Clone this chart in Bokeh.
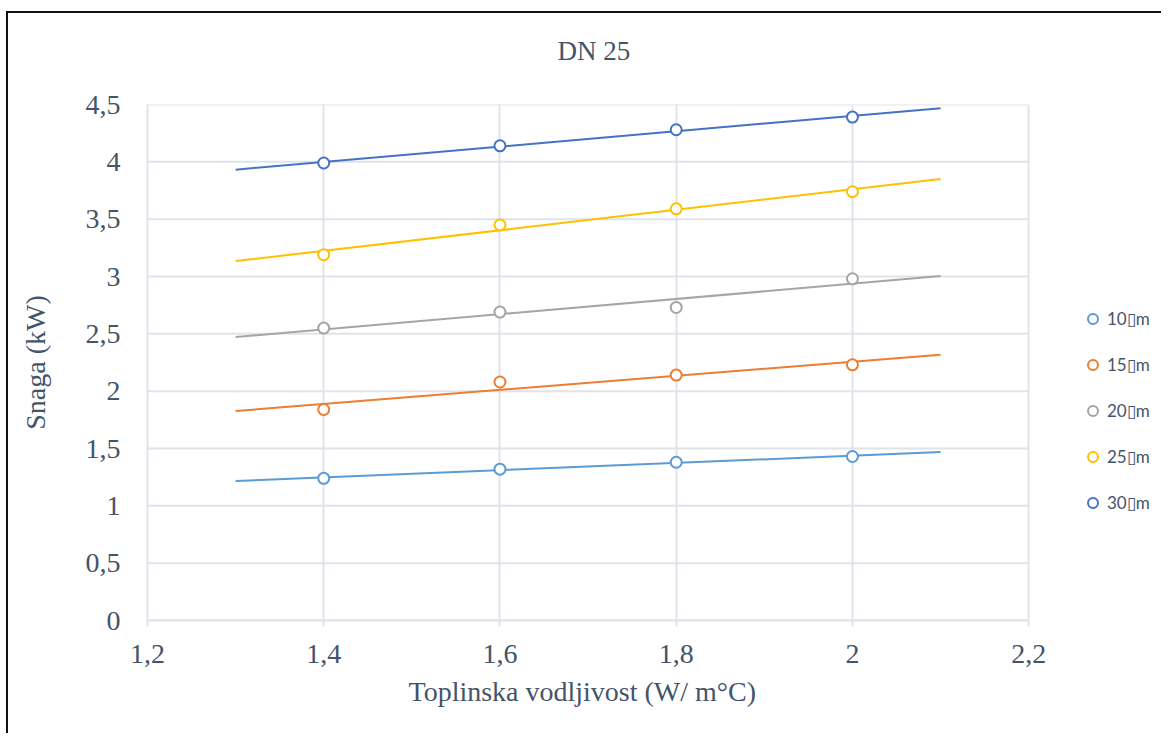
import numpy as np
from bokeh.plotting import figure
from bokeh.models import Legend, LegendItem, Range1d, FixedTicker, CustomJSTickFormatter, Title
from bokeh.embed import file_html
from bokeh.resources import INLINE

# data
conductivity = [1.4, 1.6, 1.8, 2.0]
series_names = ["10\u25afm", "15\u25afm", "20\u25afm", "25\u25afm", "30\u25afm"]
p10 = [1.24, 1.32, 1.38, 1.43]
p15 = [1.84, 2.08, 2.14, 2.23]
p20 = [2.55, 2.69, 2.73, 2.98]
p25 = [3.19, 3.45, 3.59, 3.74]
p30 = [3.99, 4.14, 4.28, 4.39]
trend_x = [1.3, 2.1]
x_ticks = [1.2, 1.4, 1.6, 1.8, 2.0, 2.2]
y_ticks = [0, 0.5, 1, 1.5, 2, 2.5, 3, 3.5, 4, 4.5]
colors = ["#5B9BD5", "#ED7D31", "#A5A5A5", "#FFC000", "#4472C4"]
chart_title = "DN 25"
x_title = "Toplinska vodljivost (W/ m°C)"
y_title = "Snaga (kW)"

TXT = "#44546A"
GRID = "#DFE3EA"
SERIF = "Liberation Serif"
X_VIEW_END = 2.353  # frame extends right to hold the legend

p = figure(width=1155, height=722, output_backend="svg", toolbar_location=None,
           x_range=Range1d(x_ticks[0], X_VIEW_END), y_range=Range1d(y_ticks[0], y_ticks[-1]),
           min_border_left=139, min_border_right=0, min_border_top=91, min_border_bottom=115,
           title=chart_title + "\n",
           styles={"margin-left": "6px", "margin-top": "11px",
                   "border-left": "2px solid #111111", "border-top": "2px solid #111111"})
p.outline_line_color = None
p.background_fill_color = "white"
p.border_fill_color = "white"

# title with a blank second line to lift it away from the frame
p.title.align = "left"
p.title.offset = 410
p.title.standoff = 0
p.title.text_line_height = 1.3
p.title.text_font = SERIF
p.title.text_font_style = "normal"
p.title.text_font_size = "27px"
p.title.text_color = TXT

fmt = CustomJSTickFormatter(code="return String(Math.round(tick*10)/10).replace('.', ',');")
p.xaxis.ticker = FixedTicker(ticks=x_ticks)
p.yaxis.ticker = FixedTicker(ticks=y_ticks)
p.xaxis.formatter = fmt
p.yaxis.formatter = fmt
p.xaxis.bounds = (x_ticks[0], x_ticks[-1])
for ax in (p.xaxis[0], p.yaxis[0]):
    ax.major_label_text_font = SERIF
    ax.major_label_text_font_size = "28px"
    ax.major_label_text_color = TXT
    ax.axis_label_text_font = SERIF
    ax.axis_label_text_font_size = "28px"
    ax.axis_label_text_font_style = "normal"
    ax.axis_label_text_color = TXT
    ax.minor_tick_line_color = None
    ax.axis_line_color = GRID
    ax.axis_line_width = 2
p.yaxis.axis_label = y_title
p.xaxis.major_tick_line_color = GRID
p.xaxis.major_tick_line_width = 2
p.xaxis.major_tick_in = 0
p.xaxis.major_tick_out = 6
p.yaxis.major_tick_line_color = None
p.xaxis.major_label_standoff = 18
p.yaxis.major_label_standoff = 21
p.yaxis.axis_label_standoff = 32

x_label = Title(text=x_title, align="left", offset=261, standoff=20, vertical_align="top",
                text_font=SERIF, text_font_style="normal", text_font_size="28px",
                text_color=TXT)
p.add_layout(x_label, "below")

p.xgrid.grid_line_color = GRID
p.xgrid.grid_line_width = 2
p.ygrid.grid_line_color = None
# horizontal gridlines limited to the x tick span
p.segment(x0=[x_ticks[0]] * len(y_ticks), x1=[x_ticks[-1]] * len(y_ticks),
          y0=y_ticks, y1=y_ticks, line_color=GRID, line_width=2, level="underlay")

items = []
for name, vals, c in zip(series_names, [p10, p15, p20, p25, p30], colors):
    k, b = np.polyfit(conductivity, vals, 1)
    tx = np.array(trend_x)
    p.line(tx, k * tx + b, line_color=c, line_width=2)
    r = p.scatter(conductivity, vals, marker="circle", size=11, line_color=c,
                  line_width=2, fill_color="white")
    items.append(LegendItem(label=name, renderers=[r]))

legend = Legend(items=items, location=(933, 105), orientation="vertical",
                label_text_font="Lato", label_text_font_size="17px", label_text_color=TXT,
                glyph_width=25, glyph_height=25, label_height=25, spacing=21,
                padding=0, margin=0, border_line_alpha=0, background_fill_alpha=0,
                label_standoff=2)
p.add_layout(legend, "center")

open("out.html", "w").write(file_html(p, INLINE))
